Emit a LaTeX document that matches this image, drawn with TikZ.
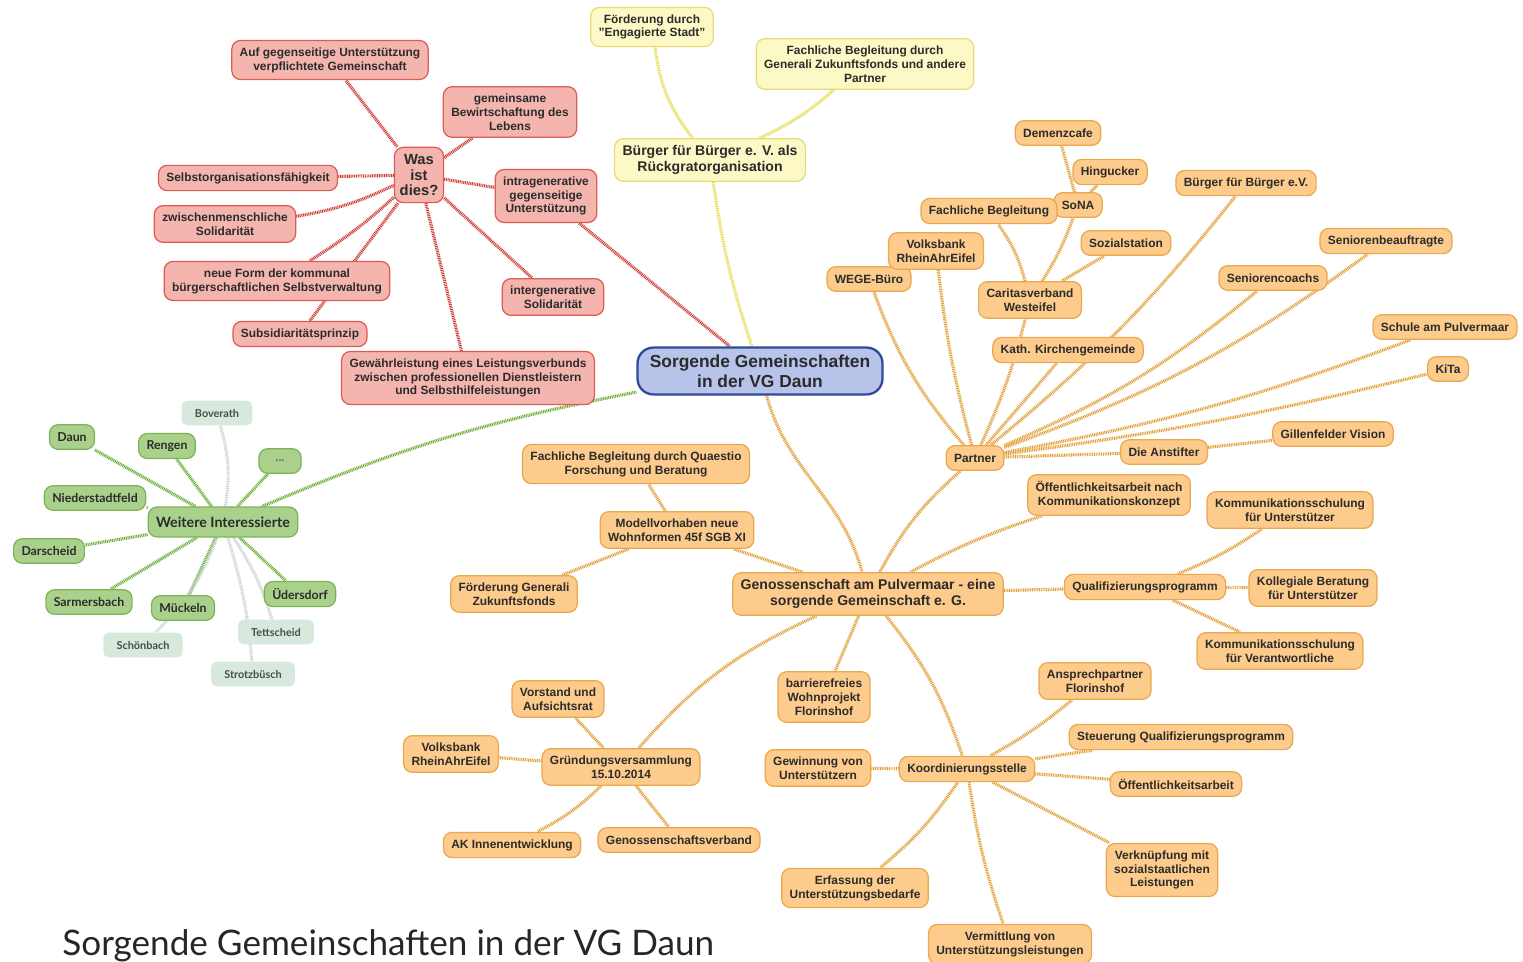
\documentclass[tikz,border=0pt]{standalone}
\usepackage{fontspec}
\setmainfont{Liberation Sans}
\newfontfamily\roundfont{Lato}
\usetikzlibrary{backgrounds, positioning}
\definecolor{redfill}{HTML}{F5B5AF}
\definecolor{redborder}{HTML}{DE5A55}
\definecolor{rededgec}{HTML}{CF3B36}
\definecolor{yelfill}{HTML}{FDF9C6}
\definecolor{yelborder}{HTML}{E6DC72}
\definecolor{yeledgec}{HTML}{E6DC50}
\definecolor{orfill}{HTML}{FDCB8B}
\definecolor{orborder}{HTML}{E9A84E}
\definecolor{oredgec}{HTML}{E2A03A}
\definecolor{bluefill}{HTML}{B8C3EA}
\definecolor{blueborder}{HTML}{2F4A98}
\definecolor{grfill}{HTML}{A9D18C}
\definecolor{grborder}{HTML}{7DB356}
\definecolor{gredgec}{HTML}{6CAE36}
\definecolor{palefill}{HTML}{D6E9DC}
\definecolor{paleedgec}{HTML}{C9D5CF}
\definecolor{inkgray}{HTML}{2B2B2B}
\newcommand{\branch}[3]
{
	\draw[#1] (#2) to (#3)
}

\begin{document}
\begin{tikzpicture}[x=0.02cm, y=-0.02cm,
	every node/.append style={align=center, rounded corners=5pt, inner xsep=4.5pt, inner ysep=4pt,
		minimum height=14pt, text=inkgray, font=\fontsize{6.8}{7.9}\selectfont\bfseries},
	rednode/.style={draw=redborder, fill=redfill, line width=0.7pt},
	yelnode/.style={draw=yelborder, fill=yelfill, line width=0.7pt},
	ornode/.style={draw=orborder, fill=orfill, line width=0.7pt},
	grnode/.style={draw=grborder, fill=grfill, line width=0.7pt, font=\fontsize{7}{8}\selectfont\roundfont\bfseries},
	palenode/.style={draw=none, fill=palefill, text=black!70, rounded corners=3pt, inner xsep=7.5pt,
		font=\fontsize{6.2}{7}\selectfont\roundfont\bfseries},
	rootnode/.style={draw=blueborder, fill=bluefill, line width=1.3pt, rounded corners=9pt, inner xsep=7pt,
		font=\fontsize{9.9}{11.4}\selectfont\bfseries},
	bigfont/.style={font=\fontsize{8}{8.8}\selectfont\bfseries},
	rededge/.style={draw=rededgec, line width=1.8pt, dash pattern=on 0.55pt off 0.45pt},
	yeledge/.style={draw=yeledgec, line width=1.8pt, dash pattern=on 0.55pt off 0.45pt},
	oredge/.style={draw=oredgec, line width=1.8pt, dash pattern=on 0.55pt off 0.45pt},
	gredge/.style={draw=gredgec, line width=1.8pt, dash pattern=on 0.55pt off 0.45pt},
	paleedge/.style={draw=paleedgec, line width=1.8pt, dash pattern=on 0.55pt off 0.45pt}]

	\useasboundingbox (0,0) rectangle (1523,962);

	% centre
	\node[rootnode] (root) at (760,371) {Sorgende Gemeinschaften\\in der VG Daun};

	% what is it
	\node[rednode] (auf) at (330,60) {Auf gegenseitige Unterstützung\\verpflichtete Gemeinschaft};
	\node[rednode] (gem) at (510,112) {gemeinsame\\Bewirtschaftung des\\Lebens};
	\node[rednode, inner xsep=3pt, font=\fontsize{8.4}{8.8}\selectfont\bfseries] (was) at (419,175) {Was\\ist\\dies?};
	\node[rednode] (selbst) at (248,178) {Selbstorganisationsfähigkeit};
	\node[rednode] (intra) at (546,196) {intragenerative\\gegenseitige\\Unterstützung};
	\node[rednode] (zwisch) at (225,224) {zwischenmenschliche\\Solidarität};
	\node[rednode] (neue) at (277,281) {neue Form der kommunal\\bürgerschaftlichen Selbstverwaltung};
	\node[rednode] (inter) at (553,297) {intergenerative\\Solidarität};
	\node[rednode] (subs) at (300,334) {Subsidiaritätsprinzip};
	\node[rednode] (gew) at (468,378) {Gewährleistung eines Leistungsverbunds\\zwischen professionellen Dienstleistern\\und Selbsthilfeleistungen};

	% backbone organisation
	\node[yelnode] (engag) at (652,27) {Förderung durch\\"Engagierte Stadt"};
	\node[yelnode] (generali) at (865,64) {Fachliche Begleitung durch\\Generali Zukunftsfonds und andere\\Partner};
	\node[yelnode, bigfont] (rueck) at (710,160) {Bürger für Bürger e. V. als\\Rückgratorganisation};

	% villages
	\node[grnode, minimum height=17pt, font=\fontsize{8.1}{9}\selectfont\roundfont\bfseries] (weit) at (223,522) {Weitere Interessierte};
	\node[grnode] (daun) at (72,437) {Daun};
	\node[grnode] (rengen) at (167,446) {Rengen};
	\node[grnode, minimum width=24pt, text=black!60] (dots) at (280,461) {...};
	\node[grnode] (nieder) at (95,498) {Niederstadtfeld};
	\node[grnode] (dars) at (49,551) {Darscheid};
	\node[grnode] (sarm) at (89,602) {Sarmersbach};
	\node[grnode] (mueck) at (183,608) {Mückeln};
	\node[grnode] (ueders) at (300,594) {Üdersdorf};
	\node[palenode] (bov) at (217,413) {Boverath};
	\node[palenode] (schoen) at (143,645) {Schönbach};
	\node[palenode] (tett) at (276,632) {Tettscheid};
	\node[palenode] (strotz) at (253,674) {Strotzbüsch};

	% partners
	\node[ornode] (partner) at (975,458) {Partner};
	\node[ornode] (wege) at (869,279) {WEGE-Büro};
	\node[ornode] (volks) at (936,251) {Volksbank\\RheinAhrEifel};
	\node[ornode] (demenz) at (1058,133) {Demenzcafe};
	\node[ornode] (hing) at (1110,172) {Hingucker};
	\node[ornode] (sona) at (1078,205) {SoNA};
	\node[ornode] (fachb) at (989,211) {Fachliche Begleitung};
	\node[ornode] (sozial) at (1126,243) {Sozialstation};
	\node[ornode] (carit) at (1030,300) {Caritasverband\\Westeifel};
	\node[ornode] (kath) at (1068,350) {Kath. Kirchengemeinde};
	\node[ornode] (bfb) at (1246,183) {Bürger für Bürger e.V.};
	\node[ornode] (senc) at (1273,278) {Seniorencoachs};
	\node[ornode] (senb) at (1386,241) {Seniorenbeauftragte};
	\node[ornode] (schule) at (1445,327) {Schule am Pulvermaar};
	\node[ornode] (kita) at (1448,369) {KiTa};
	\node[ornode] (anst) at (1164,452) {Die Anstifter};
	\node[ornode] (gill) at (1333,434) {Gillenfelder Vision};

	% cooperative
	\node[ornode, bigfont] (gen) at (868,594) {Genossenschaft am Pulvermaar - eine\\sorgende Gemeinschaft e. G.};
	\node[ornode] (quaestio) at (636,464) {Fachliche Begleitung durch Quaestio\\Forschung und Beratung};
	\node[ornode] (modell) at (677,530) {Modellvorhaben neue\\Wohnformen 45f SGB XI};
	\node[ornode] (foerd) at (514,594) {Förderung Generali\\Zukunftsfonds};
	\node[ornode] (oeffk) at (1109,495) {Öffentlichkeitsarbeit nach\\Kommunikationskonzept};
	\node[ornode] (quali) at (1145,587) {Qualifizierungsprogramm};
	\node[ornode] (kommu) at (1290,510) {Kommunikationsschulung\\für Unterstützer};
	\node[ornode] (koll) at (1313,588) {Kollegiale Beratung\\für Unterstützer};
	\node[ornode] (kommv) at (1280,651) {Kommunikationsschulung\\für Verantwortliche};
	\node[ornode] (gruend) at (621,767) {Gründungsversammlung\\15.10.2014};
	\node[ornode] (vorst) at (558,699) {Vorstand und\\Aufsichtsrat};
	\node[ornode] (volksb) at (451,754) {Volksbank\\RheinAhrEifel};
	\node[ornode] (ak) at (512,845) {AK Innenentwicklung};
	\node[ornode] (verband) at (679,840) {Genossenschaftsverband};
	\node[ornode] (barr) at (824,697) {barrierefreies\\Wohnprojekt\\Florinshof};
	\node[ornode] (koord) at (967,769) {Koordinierungsstelle};
	\node[ornode] (gewinn) at (818,768) {Gewinnung von\\Unterstützern};
	\node[ornode] (ansp) at (1095,681) {Ansprechpartner\\Florinshof};
	\node[ornode] (steuer) at (1181,737) {Steuerung Qualifizierungsprogramm};
	\node[ornode] (oeff) at (1176,784) {Öffentlichkeitsarbeit};
	\node[ornode] (verkn) at (1162,870) {Verknüpfung mit\\sozialstaatlichen\\Leistungen};
	\node[ornode] (erf) at (855,888) {Erfassung der\\Unterstützungsbedarfe};
	\node[ornode] (verm) at (1010,944) {Vermittlung von\\Unterstützungsleistungen};

	\node[draw=none, fill=none, inner sep=0pt, minimum height=0pt, anchor=base west, text=black!85,
		font=\fontsize{20}{22}\selectfont\roundfont] (title) at (62,955) {Sorgende Gemeinschaften in der VG Daun};

	\begin{pgfonlayer}{background}
	\branch{rededge}{was}{auf};
	\branch{rededge}{was}{gem};
	\branch{rededge}{was}{selbst};
	\branch{rededge, bend left=8}{was}{zwisch};
	\branch{rededge, bend left=5}{was}{neue};
	\branch{rededge}{was}{subs};
	\branch{rededge}{was}{intra};
	\branch{rededge}{was}{inter};
	\branch{rededge}{was}{gew};
	\branch{rededge}{intra}{root};

	\branch{yeledge, bend left=15}{rueck}{engag};
	\branch{yeledge, bend right=8}{rueck}{generali};
	\branch{yeledge, bend right=5}{rueck}{root};

	\branch{gredge, bend left=6}{weit}{root};
	\branch{gredge}{weit}{daun};
	\branch{gredge}{weit}{rengen};
	\branch{gredge}{weit}{dots};
	\branch{gredge}{weit}{nieder};
	\branch{gredge}{weit}{dars};
	\branch{gredge}{weit}{sarm};
	\branch{gredge}{weit}{mueck};
	\branch{gredge}{weit}{ueders};
	\branch{paleedge, bend right=12}{weit}{bov};
	\branch{paleedge, bend left=12}{weit}{schoen};
	\branch{paleedge, bend left=8}{weit}{tett};
	\branch{paleedge, bend left=6}{weit}{strotz};

	\branch{oredge, out=-75, in=105}{root}{gen};
	\branch{oredge, bend left=10}{gen}{partner};
	\branch{oredge, bend left=10}{partner}{wege};
	\branch{oredge, bend left=4}{partner}{volks};
	\branch{oredge, bend right=5}{partner}{carit};
	\branch{oredge}{partner}{kath};
	\branch{oredge, bend right=6}{partner}{bfb};
	\branch{oredge, bend right=8}{partner}{senc};
	\branch{oredge, bend right=8}{partner}{senb};
	\branch{oredge, bend right=5}{partner}{schule};
	\branch{oredge, bend right=3}{partner}{kita};
	\branch{oredge}{partner}{anst};
	\branch{oredge}{anst}{gill};
	\branch{oredge, bend right=10}{carit}{fachb};
	\branch{oredge, bend right=6}{carit}{sona};
	\branch{oredge}{carit}{sozial};
	\branch{oredge}{sona}{demenz};
	\branch{oredge}{sona}{hing};

	\branch{oredge}{gen}{modell};
	\branch{oredge}{modell}{quaestio};
	\branch{oredge}{modell}{foerd};
	\branch{oredge, bend left=5}{gen}{oeffk};
	\branch{oredge}{gen}{quali};
	\branch{oredge, bend right=6}{quali}{kommu};
	\branch{oredge}{quali}{koll};
	\branch{oredge}{quali}{kommv};
	\branch{oredge, bend right=12}{gen}{gruend};
	\branch{oredge}{gruend}{vorst};
	\branch{oredge}{gruend}{volksb};
	\branch{oredge, bend left=8}{gruend}{ak};
	\branch{oredge}{gruend}{verband};
	\branch{oredge}{gen}{barr};
	\branch{oredge, bend left=10}{gen}{koord};
	\branch{oredge}{koord}{gewinn};
	\branch{oredge, bend right=5}{koord}{ansp};
	\branch{oredge}{koord}{steuer};
	\branch{oredge}{koord}{oeff};
	\branch{oredge}{koord}{verkn};
	\branch{oredge, bend left=8}{koord}{erf};
	\branch{oredge, bend right=5}{koord}{verm};
	\end{pgfonlayer}
\end{tikzpicture}
\end{document}
